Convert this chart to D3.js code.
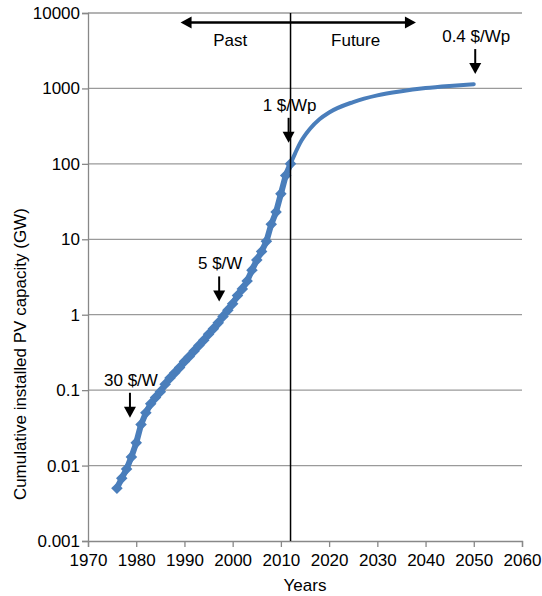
<!DOCTYPE html>
<html>
<head>
<meta charset="utf-8">
<script src="https://cdn.jsdelivr.net/npm/d3@7"></script>
<style>
  body { margin: 0; background: #fff; }
  text { font-family: "Liberation Sans", Arial, sans-serif; fill: #000; }
</style>
</head>
<body>
<div id="chart"></div>
<script>
// historic installed PV (diamonds), one point per year
var pastYears = [1976, 1977, 1978, 1979, 1980, 1981, 1982, 1983, 1984, 1985,
                 1986, 1987, 1988, 1989, 1990, 1991, 1992, 1993, 1994, 1995,
                 1996, 1997, 1998, 1999, 2000, 2001, 2002, 2003, 2004, 2005,
                 2006, 2007, 2008, 2009, 2010, 2011, 2012];
var pastGW = [0.005, 0.0068, 0.009, 0.013, 0.02, 0.035, 0.05, 0.066, 0.08, 0.095,
              0.12, 0.145, 0.17, 0.2, 0.24, 0.28, 0.33, 0.39, 0.46, 0.55,
              0.65, 0.78, 0.95, 1.15, 1.4, 1.8, 2.2, 2.8, 3.9, 5.3,
              6.9, 9.4, 15.8, 23, 40, 70, 100];

// projection (smooth line)
var futureYears = [2012, 2013, 2014, 2016, 2018, 2020, 2025, 2030, 2035, 2040, 2045, 2050];
var futureGW = [100, 140, 190, 290, 390, 480, 660, 810, 920, 1010, 1080, 1140];

var xTicks = [1970, 1980, 1990, 2000, 2010, 2020, 2030, 2040, 2050, 2060];
var yTicks = [0.001, 0.01, 0.1, 1, 10, 100, 1000, 10000];
var yTickLabels = ["0.001", "0.01", "0.1", "1", "10", "100", "1000", "10000"];

// price notes: arrow tip at (year, GW)
var notes = [
  {text: "30 $/W", year: 1978.7, gw: 0.043},
  {text: "5 $/W", year: 1997.2, gw: 1.5},
  {text: "1 $/Wp", year: 2011.6, gw: 190},
  {text: "0.4 $/Wp", year: 2050.3, gw: 1550}
];
var nowYear = 2012;

var width = 542, height = 596;
var margin = {top: 13, right: 20, bottom: 55, left: 88};

var svg = d3.select("#chart").append("svg")
  .attr("width", width)
  .attr("height", height);

var x = d3.scaleLinear().domain([1970, 2060]).range([margin.left, width - margin.right]);
var y = d3.scaleLog().domain([0.001, 10000]).range([height - margin.bottom, margin.top]);

var blue = "#4a7ebb";
var gridColor = "#9a9a9a";

// grid
svg.append("g").selectAll("line").data(yTicks.slice(1)).join("line")
  .attr("x1", x(1970)).attr("x2", x(2060))
  .attr("y1", d => y(d)).attr("y2", d => y(d))
  .attr("stroke", gridColor).attr("stroke-width", 1.3);

// axes
var xAxis = svg.append("g")
  .attr("transform", "translate(0," + y(0.001) + ")")
  .call(d3.axisBottom(x).tickValues(xTicks).tickFormat(d3.format("d")).tickSizeOuter(0).tickSize(6));
var yAxis = svg.append("g")
  .attr("transform", "translate(" + x(1970) + ",0)")
  .call(d3.axisLeft(y).tickValues(yTicks).tickFormat((d, i) => yTickLabels[i]).tickSizeOuter(0).tickSize(6));

[xAxis, yAxis].forEach(a => {
  a.select(".domain").attr("stroke", "#888").attr("stroke-width", 1.3);
  a.selectAll(".tick line").attr("stroke", "#888").attr("stroke-width", 1.3);
  a.selectAll(".tick text").style("font-size", "17px").attr("fill", "#000");
});
xAxis.selectAll(".tick text").attr("dy", "0.95em");
yAxis.selectAll(".tick text").attr("x", -8);

// axis titles
svg.append("text")
  .attr("x", x(2015)).attr("y", 591)
  .attr("text-anchor", "middle")
  .style("font-size", "17px")
  .text("Years");
svg.append("text")
  .attr("transform", "translate(26," + y(0.3) + ") rotate(-90)")
  .attr("text-anchor", "middle")
  .style("font-size", "17px")
  .text("Cumulative installed PV capacity (GW)");

// projection line
svg.append("path")
  .datum(futureYears.map((d, i) => [d, futureGW[i]]))
  .attr("fill", "none")
  .attr("stroke", blue)
  .attr("stroke-width", 4)
  .attr("stroke-linecap", "round")
  .attr("d", d3.line().x(d => x(d[0])).y(d => y(d[1])).curve(d3.curveMonotoneX));

// historic series: connecting line + diamonds
svg.append("path")
  .datum(pastYears.map((d, i) => [d, pastGW[i]]))
  .attr("fill", "none")
  .attr("stroke", blue)
  .attr("stroke-width", 6)
  .attr("stroke-linejoin", "round")
  .attr("d", d3.line().x(d => x(d[0])).y(d => y(d[1])));

svg.append("g").selectAll("path").data(pastYears).join("path")
  .attr("transform", (d, i) => "translate(" + x(d) + "," + y(pastGW[i]) + ")")
  .attr("d", d3.symbol().type(d3.symbolDiamond2).size(85)())
  .attr("fill", blue);

// today line
svg.append("line")
  .attr("x1", x(nowYear)).attr("x2", x(nowYear))
  .attr("y1", y(10000)).attr("y2", y(0.001))
  .attr("stroke", "#000").attr("stroke-width", 1.5);

// arrowheads
function head(g, px, py, dir) {
  // dir: "down", "left", "right"
  var w = 6, l = 11, pts;
  if (dir == "down") pts = [[px, py], [px - w, py - l], [px + w, py - l]];
  if (dir == "left") pts = [[px, py], [px + l, py - w], [px + l, py + w]];
  if (dir == "right") pts = [[px, py], [px - l, py - w], [px - l, py + w]];
  g.append("path").attr("d", "M" + pts.join("L") + "Z").attr("fill", "#000");
}

// past / future arrow
var pf = svg.append("g");
var pfY = y(7500);
pf.append("line")
  .attr("x1", x(1989.2) + 8).attr("x2", x(2038) - 8)
  .attr("y1", pfY).attr("y2", pfY)
  .attr("stroke", "#000").attr("stroke-width", 2.5);
head(pf, x(1989.2), pfY, "left");
head(pf, x(2038), pfY, "right");
pf.append("text").attr("x", x(1999.5)).attr("y", 46).attr("text-anchor", "middle")
  .style("font-size", "17px").text("Past");
pf.append("text").attr("x", x(2025.5)).attr("y", 46).attr("text-anchor", "middle")
  .style("font-size", "17px").text("Future");

// price notes
notes.forEach(n => {
  var g = svg.append("g");
  var tx = x(n.year), ty = y(n.gw);
  g.append("line")
    .attr("x1", tx).attr("x2", tx)
    .attr("y1", ty - 25).attr("y2", ty - 6)
    .attr("stroke", "#000").attr("stroke-width", 2);
  head(g, tx, ty, "down");
  g.append("text")
    .attr("x", tx + 1).attr("y", ty - 32)
    .attr("text-anchor", "middle")
    .style("font-size", "17px")
    .text(n.text);
});
</script>
</body>
</html>
